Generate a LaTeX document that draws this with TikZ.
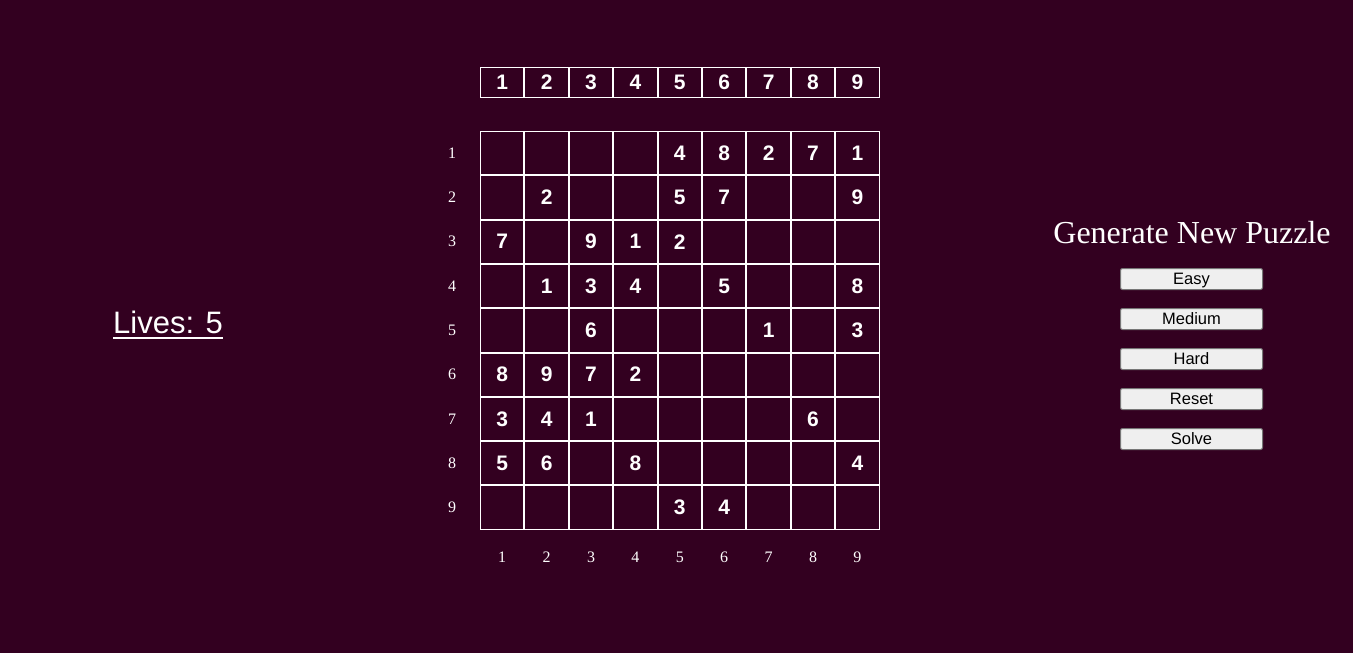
\documentclass[tikz,border=0pt]{standalone}
\usepackage{fontspec}
\setmainfont{Liberation Serif}
\newfontfamily\arial{Liberation Sans}
\usetikzlibrary{positioning}
\definecolor{bg}{RGB}{51,0,32}
\definecolor{btnfill}{RGB}{239,239,239}
\definecolor{btnline}{RGB}{118,118,118}

\begin{document}
\begin{tikzpicture}[x=1pt,y=-1pt,
  cell/.style={draw=white,line width=1pt,minimum width=43.4pt,minimum height=43.3pt,inner sep=0pt,text=white,font=\arial\bfseries\fontsize{21}{21}\selectfont},
  head/.style={cell,minimum height=30pt},
  lbl/.style={text=white,inner sep=0pt,font=\fontsize{16}{16}\selectfont},
  btn/.style={draw=btnline,fill=btnfill,line width=1pt,rounded corners=2pt,minimum width=142pt,minimum height=21pt,inner sep=0pt,text height=13pt,text depth=3pt,font=\arial\fontsize{16.5}{16.5}\selectfont},
  node distance=18pt]
\fill[bg] (0,0) rectangle (1353,653);
\useasboundingbox (0,0) rectangle (1353,653);

\foreach \c in {1,...,9}{
  \node[head] (h\c) at ({480+44.4*(\c-0.5)},82.5) {\c};
  \node[lbl] (b\c) at ({480+44.4*(\c-0.5)},557) {\c};
  \node[lbl] (l\c) at (452,{131+44.3*(\c-0.5)}) {\c};
}

\foreach \row [count=\r] in {{0,0,0,0,4,8,2,7,1},{0,2,0,0,5,7,0,0,9},{7,0,9,1,2,0,0,0,0},
    {0,1,3,4,0,5,0,0,8},{0,0,6,0,0,0,1,0,3},{8,9,7,2,0,0,0,0,0},
    {3,4,1,0,0,0,0,6,0},{5,6,0,8,0,0,0,0,4},{0,0,0,0,3,4,0,0,0}}
  \foreach \v [count=\c] in \row
    \node[cell] (c\r\c) at ({480+44.4*(\c-0.5)},{131+44.3*(\r-0.5)}) {\ifnum\v>0 \v\fi};

\node[text=white,inner sep=0pt,anchor=base west,font=\arial\fontsize{31}{31}\selectfont] (lives) at (113,333) {Lives: 5};
\draw[white,line width=2pt] ([yshift=-4.5pt]lives.base west) -- ([yshift=-4.5pt]lives.base east);

\node[text=white,inner sep=0pt,anchor=base,font=\fontsize{32}{32}\selectfont] (title) at (1192,243) {Generate New Puzzle};
\node[btn] (easy) at (1191.5,279) {Easy};
\node[btn,below=of easy] (medium) {Medium};
\node[btn,below=of medium] (hard) {Hard};
\node[btn,below=of hard] (reset) {Reset};
\node[btn,below=of reset] (solve) {Solve};
\end{tikzpicture}
\end{document}
